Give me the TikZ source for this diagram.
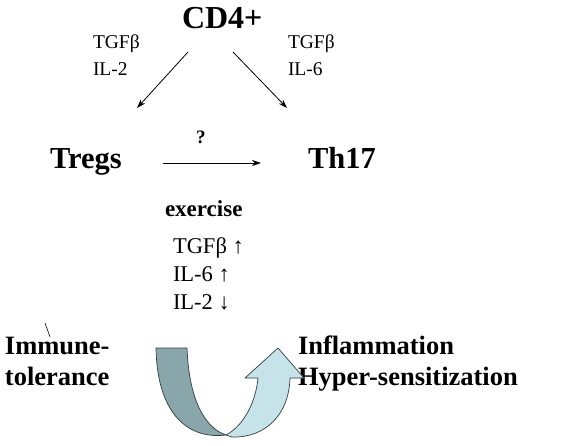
\documentclass[tikz,border=0pt]{standalone}
\usepackage{fontspec}
\setmainfont{Liberation Serif}
\usetikzlibrary{arrows.meta}
\definecolor{darkband}{RGB}{137,166,171}
\definecolor{lightband}{RGB}{198,227,233}
\definecolor{bandline}{RGB}{50,62,64}
\begin{document}
\begin{tikzpicture}[x=1pt,y=-1pt,
  txt/.style={anchor=base west, inner sep=0pt, outer sep=0pt},
  big/.style={txt, font=\fontsize{30.5}{30}\selectfont\bfseries},
  small/.style={txt, font=\fontsize{19.5}{19}\selectfont},
  mid/.style={txt, font=\fontsize{22.5}{22}\selectfont},
  midb/.style={txt, font=\fontsize{23}{22}\selectfont\bfseries},
  side/.style={txt, font=\fontsize{26.5}{26}\selectfont\bfseries},
  conn/.style={-{Stealth[length=9pt,width=6pt]}, line width=0.8pt},
  ribbon/.style={draw=bandline, line width=0.7pt, line join=round}]
\useasboundingbox (0,0) rectangle (564,445);
\fill[white] (0,0) rectangle (564,445);

\node[txt, font=\fontsize{32}{32}\selectfont\bfseries] (cd4) at (182,28) {CD4+};
\node[small] (tgfl) at (93,48) {TGFβ};
\node[small] (il2l) at (93,75) {IL-2};
\node[small] (tgfr) at (288,48) {TGFβ};
\node[small] (il6r) at (288,75) {IL-6};
\node[big] (tregs) at (50,168) {Tregs};
\node[big] (th17) at (308,168) {Th17};
\node[txt, font=\fontsize{19}{19}\selectfont\bfseries] (q) at (196,143) {?};

\coordinate (l1) at (188,52);
\coordinate (l2) at (137,108);
\coordinate (r1) at (233,52);
\coordinate (r2) at (287,108);
\coordinate (h1) at (163,163);
\coordinate (h2) at (261,163);
\draw[conn] (l1) -- (l2);
\draw[conn] (r1) -- (r2);
\draw[conn] (h1) -- (h2);

\node[midb] (ex) at (165,216) {exercise};
\node[mid] (tgfu) at (173,253) {TGFβ ↑};
\node[mid] (il6u) at (173,281) {IL-6 ↑};
\node[mid] (il2d) at (173,309) {IL-2 ↓};

\node[side] (imm) at (5,354) {Immune-};
\node[side] (tol) at (5,385) {tolerance};
\node[side] (infl) at (298,354) {Inflammation};
\node[side] (hyp) at (298,385) {Hyper-sensitization};

\coordinate (t1) at (45,323);
\coordinate (t2) at (50,337);
\draw[line width=0.6pt] (t1) -- (t2);

\draw[ribbon, fill=darkband] (156,348) -- (187,348)
  .. controls (189,400) and (205,428) .. (226,435)
  .. controls (185,440) and (157,410) .. (156,348) -- cycle;
\draw[ribbon, fill=lightband] (226,435)
  .. controls (245,425) and (256,400) .. (258,378)
  -- (245,378) -- (278,348) -- (304,378) -- (290,378)
  .. controls (289,415) and (265,438) .. (232,437) -- cycle;
\end{tikzpicture}
\end{document}
